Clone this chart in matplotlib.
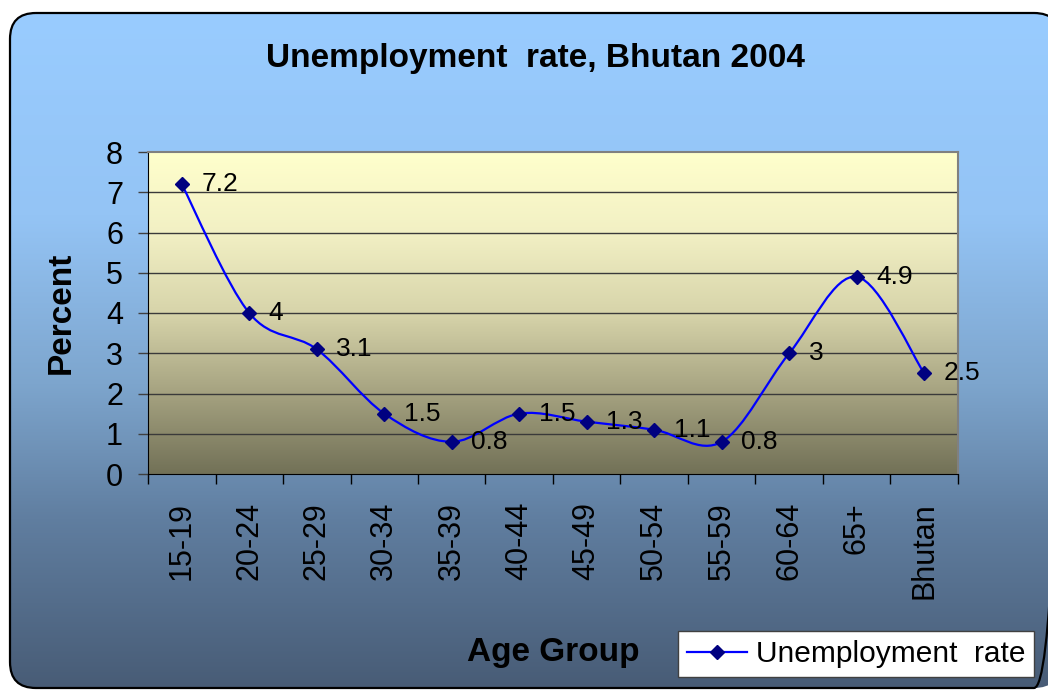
import matplotlib
matplotlib.use("Agg")
import matplotlib.pyplot as plt
from matplotlib.colors import LinearSegmentedColormap
from matplotlib.patches import FancyBboxPatch, PathPatch
from matplotlib.path import Path
from matplotlib.lines import Line2D
import numpy as np

plt.rcParams['font.family'] = ['Liberation Sans', 'DejaVu Sans']

age_groups = ['15-19', '20-24', '25-29', '30-34', '35-39', '40-44',
              '45-49', '50-54', '55-59', '60-64', '65+', 'Bhutan']
rates = [7.2, 4, 3.1, 1.5, 0.8, 1.5, 1.3, 1.1, 0.8, 3, 4.9, 2.5]
rate_labels = ['7.2', '4', '3.1', '1.5', '0.8', '1.5', '1.3', '1.1', '0.8', '3', '4.9', '2.5']
y_ticks = [0, 1, 2, 3, 4, 5, 6, 7, 8]

W, H = 1048, 691


def px(x, y):
  # pixel (from top-left) -> figure fraction
  return x / W, 1 - y / H


def smooth_path(xs, ys):
  # excel style smoothed line: catmull-rom segments as cubic beziers
  pts = np.column_stack([xs, ys]).astype(float)
  ext = np.vstack([pts[0], pts, pts[-1]])
  verts = [tuple(pts[0])]
  codes = [Path.MOVETO]
  for i in range(1, len(ext) - 2):
    p0, p1, p2, p3 = ext[i - 1], ext[i], ext[i + 1], ext[i + 2]
    c1 = p1 + (p2 - p0) / 6.0
    c2 = p2 - (p3 - p1) / 6.0
    verts += [tuple(c1), tuple(c2), tuple(p2)]
    codes += [Path.CURVE4] * 3
  return Path(verts, codes)


fig = plt.figure(figsize=(W / 100, H / 100), dpi=100)
fig.patch.set_facecolor('white')

# chart area background with rounded border
bg = fig.add_axes([0, 0, 1, 1])
bg.set_xlim(0, W)
bg.set_ylim(H, 0)
bg.axis('off')
box_cmap = LinearSegmentedColormap.from_list('box', [
  (0.0, (153/255, 204/255, 255/255)),
  (0.3, (148/255, 196/255, 245/255)),
  (0.55, (125/255, 165/255, 205/255)),
  (0.75, (96/255, 126/255, 160/255)),
  (1.0, (72/255, 92/255, 118/255))])
box = FancyBboxPatch((10, 13), 1050, 675, boxstyle='round,pad=0,rounding_size=26',
                     facecolor='none', edgecolor='black', linewidth=1.6, zorder=3)
bg.add_patch(box)
grad = np.linspace(0, 1, 256).reshape(-1, 1)
im = bg.imshow(grad, cmap=box_cmap, extent=[10, 1060, 688, 13], aspect='auto', zorder=1)
im.set_clip_path(box)

# plot area
l, b = px(148, 474)
r, t = px(958, 152)
ax = fig.add_axes([l, b, r - l, t - b])
plot_cmap = LinearSegmentedColormap.from_list('plot', [
  (0.0, (255/255, 255/255, 204/255)),
  (0.25, (242/255, 240/255, 196/255)),
  (0.5, (215/255, 212/255, 170/255)),
  (0.75, (165/255, 162/255, 128/255)),
  (1.0, (114/255, 113/255, 87/255))])
ax.imshow(grad, cmap=plot_cmap, extent=[0, 1, 0, 1], transform=ax.transAxes,
          aspect='auto', zorder=0)

x = np.arange(len(age_groups))
ax.set_xlim(-0.5, len(age_groups) - 0.5)
ax.set_ylim(0, 8)

for v in y_ticks[1:-1]:
  ax.axhline(v, color='#3a3a3a', linewidth=1.0, zorder=1)

curve = PathPatch(smooth_path(x, rates), facecolor='none', edgecolor='#0000ff',
                  linewidth=1.6, zorder=3, transform=ax.transData)
ax.add_patch(curve)
ax.plot(x, rates, linestyle='none', marker='D', markersize=7.5,
        color='#000080', zorder=4)

for xi, v, lab in zip(x, rates, rate_labels):
  ax.annotate(lab, (xi, v), xytext=(14, 0), textcoords='offset points',
              ha='left', va='center', fontsize=19, color='black', zorder=5)

ax.set_yticks(y_ticks)
ax.set_yticklabels([str(v) for v in y_ticks], fontsize=22)
ax.tick_params(axis='y', direction='out', length=7, width=1, color='#404040', pad=11)

ax.set_xticks(x)
ax.set_xticklabels(age_groups, rotation=90, fontsize=22, va='top', ha='center')
ax.set_xticks(np.arange(len(age_groups) + 1) - 0.5, minor=True)
ax.tick_params(axis='x', which='major', length=0, pad=20)
ax.tick_params(axis='x', which='minor', direction='out', length=7, width=1, color='black')

for side in ['top', 'right']:
  ax.spines[side].set_color('#808080')
  ax.spines[side].set_linewidth(1.5)
ax.spines['left'].set_color('black')
ax.spines['bottom'].set_color('black')

# titles
fig.text(*px(535, 59), 'Unemployment  rate, Bhutan 2004', fontsize=24,
         fontweight='bold', ha='center', va='center')
fig.text(*px(61, 313), 'Percent', fontsize=24, fontweight='bold',
         ha='center', va='center', rotation=90)
fig.text(*px(553, 653), 'Age Group', fontsize=24, fontweight='bold',
         ha='center', va='center')

handle = Line2D([], [], color='#0000ff', linewidth=1.6, marker='D',
                markersize=7.5, markerfacecolor='#000080', markeredgecolor='#000080')
leg = fig.legend([handle], ['Unemployment  rate'], loc='center',
                 bbox_to_anchor=px(856, 654), fontsize=21.5, frameon=True,
                 fancybox=False, handlelength=2.0, handletextpad=0.3,
                 borderpad=0.3, borderaxespad=0)
leg.get_frame().set_edgecolor('#404040')
leg.get_frame().set_linewidth(1.0)
leg.get_frame().set_facecolor('white')
leg.get_frame().set_alpha(1)

fig.savefig('out.png', dpi=100)
